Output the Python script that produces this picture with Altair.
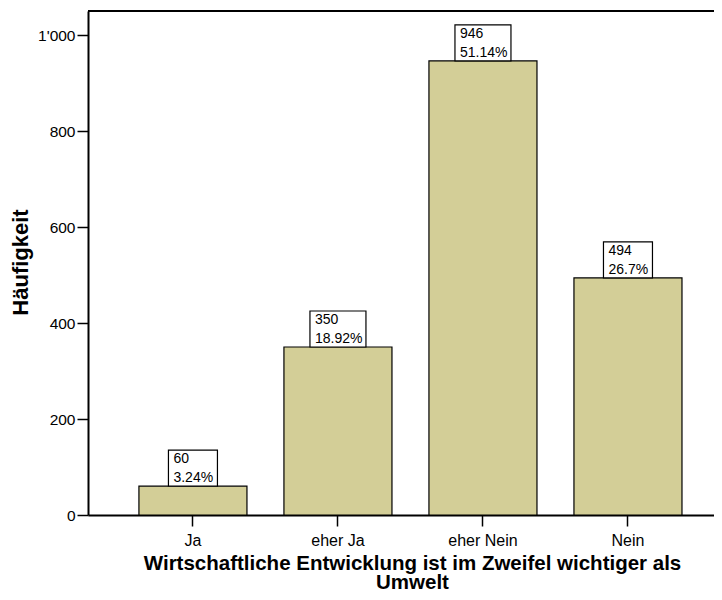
import altair as alt
import pandas as pd

categories = ["Ja", "eher Ja", "eher Nein", "Nein"]
counts = [60, 350, 946, 494]
percents = ["3.24%", "18.92%", "51.14%", "26.7%"]
y_ticks = [0, 200, 400, 600, 800, 1000]

PLOT_W = 626
PLOT_H = 504
Y_MAX = 1050
FONT = "Liberation Sans"
BAR = "#d3ce97"
LABEL_SIZE = 14

df = pd.DataFrame({
    "cat": categories,
    "count": counts,
    "pct": percents,
    "cnt_label": [str(c) for c in counts],
})

px_per_unit = PLOT_H / Y_MAX
box_h = 36 / px_per_unit

CHAR_EM = {".": 0.278, "%": 0.889}


def text_width(s, size):
    return sum(CHAR_EM.get(ch, 0.556) for ch in s) * size


x_scale = alt.Scale(domain=categories, paddingInner=0.255, paddingOuter=0.286, align=0.614)
y_scale = alt.Scale(domain=[0, Y_MAX], nice=False, zero=True)

x_enc = alt.X(
    "cat:N", scale=x_scale, sort=categories,
    axis=alt.Axis(
        title=["Wirtschaftliche Entwicklung ist im Zweifel wichtiger als", "Umwelt"],
        titleFont=FONT, titleFontSize=20.5, titleFontWeight="bold", titleColor="black",
        titleX=324, titleY=54, titleBaseline="alphabetic", titleAlign="center",
        titleLineHeight=19.5,
        labelFont=FONT, labelFontSize=16, labelColor="black", labelAngle=0,
        labelBaseline="alphabetic", labelPadding=19,
        tickSize=11, tickColor="black", tickWidth=1.5,
        domainColor="black", domainWidth=2,
    ),
)

y_enc = alt.Y(
    "count:Q", scale=y_scale,
    axis=alt.Axis(
        title="Häufigkeit", values=y_ticks,
        labelExpr="replace(format(datum.value, ','), ',', \"'\")",
        grid=False,
        titleFont=FONT, titleFontSize=22, titleFontWeight="bold", titleColor="black",
        titleX=-61, titleY=251, titleAngle=270, titleBaseline="alphabetic", titleAlign="center",
        labelFont=FONT, labelFontSize=15.5, labelColor="black", labelPadding=2,
        tickSize=11, tickColor="black", tickWidth=1.5,
        domainColor="black", domainWidth=2,
    ),
)

base = alt.Chart(df)

bars = base.mark_bar(fill=BAR, stroke="black", strokeWidth=1.2).encode(x=x_enc, y=y_enc)

layers = [bars]
for cat, pct in zip(categories, percents):
    w = round(text_width(pct, LABEL_SIZE) + 9)
    sub = base.transform_filter(alt.datum.cat == cat).transform_calculate(
        top=f"datum.count + {box_h}"
    )
    box = sub.mark_bar(fill="white", stroke="black", strokeWidth=1.2, width=w).encode(
        x=x_enc, y=y_enc, y2="top:Q"
    )
    t1 = sub.mark_text(
        align="left", baseline="alphabetic", dx=-w / 2 + 5, dy=-23,
        font=FONT, fontSize=LABEL_SIZE, color="black",
    ).encode(x=x_enc, y=y_enc, text="cnt_label:N")
    t2 = sub.mark_text(
        align="left", baseline="alphabetic", dx=-w / 2 + 5, dy=-4,
        font=FONT, fontSize=LABEL_SIZE, color="black",
    ).encode(x=x_enc, y=y_enc, text="pct:N")
    layers += [box, t1, t2]

top_rule = base.mark_rule(color="black", strokeWidth=2).encode(
    x=alt.value(0), x2=alt.value(PLOT_W), y=alt.value(0)
)
layers.append(top_rule)

chart = alt.layer(*layers).properties(
    width=PLOT_W,
    height=PLOT_H,
    autosize=alt.AutoSizeParams(type="none"),
    padding={"left": 80, "top": 3, "right": 0, "bottom": 77},
    background="white",
).configure_view(stroke=None)

chart.save("out.html", embed_options={"renderer": "svg", "actions": False})
